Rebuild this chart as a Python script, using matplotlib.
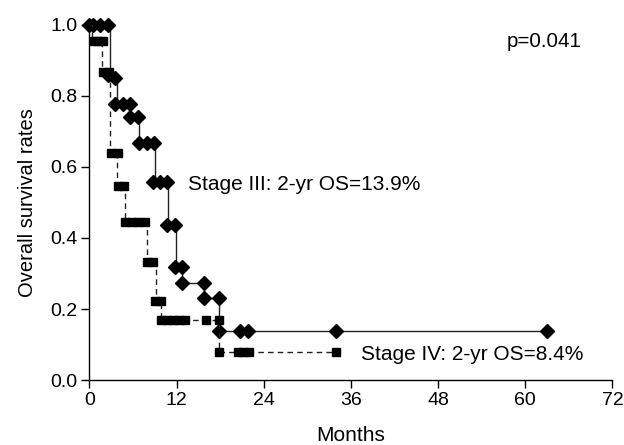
import matplotlib
matplotlib.use("Agg")
import matplotlib.pyplot as plt

plt.rcParams['font.family'] = ['Liberation Sans', 'DejaVu Sans']

# Kaplan-Meier steps (months, survival after the step)
stage3_time = [0, 2.8, 3.3, 3.8, 5.6, 6.8, 9.0, 10.8, 11.9, 12.7, 15.75, 17.9, 63.0]
stage3_surv = [1.0, 0.86, 0.85, 0.778, 0.74, 0.667, 0.557, 0.437, 0.317, 0.274, 0.23, 0.139, 0.139]
# markers (events / censored)
stage3_mark_t = [0, 0.5, 1.4, 2.5, 2.6, 3.5, 3.5, 4.6, 5.6, 5.6, 6.7, 6.8, 7.9, 8.9,
                 8.8, 9.7, 10.7, 10.7, 11.75, 11.75, 12.7, 12.7, 15.75, 15.75, 17.8,
                 17.8, 20.7, 21.8, 33.9, 63.0]
stage3_mark_s = [1.0, 1.0, 1.0, 1.0, 0.86, 0.85, 0.778, 0.778, 0.778, 0.74, 0.74, 0.667,
                 0.667, 0.667, 0.557, 0.557, 0.557, 0.437, 0.437, 0.317, 0.317, 0.274,
                 0.274, 0.23, 0.23, 0.139, 0.139, 0.139, 0.139, 0.139]

stage4_time = [0, 0.3, 1.7, 2.8, 3.8, 4.9, 7.9, 9.2, 9.9, 17.9, 34.0]
stage4_surv = [1.0, 0.955, 0.868, 0.64, 0.547, 0.446, 0.333, 0.223, 0.169, 0.078, 0.078]
stage4_mark_t = [0.6, 1.2, 1.9, 1.8, 2.7, 2.9, 3.9, 3.9, 4.8, 4.9, 5.8, 6.7, 7.6,
                 7.9, 8.8, 9.0, 9.8, 9.9, 10.7, 11.5, 12.3, 13.1, 16.0, 17.9,
                 17.9, 20.5, 21.2, 22.0, 34.0]
stage4_mark_s = [0.955, 0.955, 0.955, 0.868, 0.868, 0.64, 0.64, 0.547, 0.547, 0.446,
                 0.446, 0.446, 0.446, 0.333, 0.333, 0.223, 0.223, 0.169, 0.169, 0.169,
                 0.169, 0.169, 0.169, 0.169, 0.078, 0.078, 0.078, 0.078, 0.078]

x_ticks = [0, 12, 24, 36, 48, 60, 72]
y_ticks = [0.0, 0.2, 0.4, 0.6, 0.8, 1.0]

fig = plt.figure(figsize=(6.24, 4.45), dpi=100)
ax = fig.add_axes([0.1434, 0.146, 0.838, 0.798])

ax.plot(stage3_time, stage3_surv, drawstyle="steps-post", color="#222222", lw=1.0)
ax.plot(stage3_mark_t, stage3_mark_s, "D", color="black", ms=7, ls="none")

ax.plot(stage4_time, stage4_surv, drawstyle="steps-post", color="#222222", lw=1.0,
        ls=(0, (4, 3)))
ax.plot(stage4_mark_t, stage4_mark_s, "s", color="black", ms=6, ls="none")

ax.text(13.5, 0.55, "Stage III: 2-yr OS=13.9%", fontsize=15, va="center")
ax.text(37.4, 0.073, "Stage IV: 2-yr OS=8.4%", fontsize=15, va="center")
ax.text(57.4, 0.953, "p=0.041", fontsize=14.8, va="center")

ax.set_xlim(0, 72)
ax.set_ylim(0, 1.0)
ax.set_xticks(x_ticks)
ax.set_yticks(y_ticks)
ax.set_yticklabels(["%.1f" % v for v in y_ticks])
ax.tick_params(labelsize=14, length=5.5, width=1, direction="out", pad=3)
ax.set_xlabel("Months", fontsize=15, labelpad=12)
ax.set_ylabel("Overall survival rates", fontsize=14.5, labelpad=10)
for side in ["top", "right"]:
    ax.spines[side].set_visible(False)
for side in ["left", "bottom"]:
    ax.spines[side].set_linewidth(1.0)
    ax.spines[side].set_clip_on(False)

for artist in ax.lines:
    artist.set_clip_on(False)

fig.savefig("out.png", dpi=100)
